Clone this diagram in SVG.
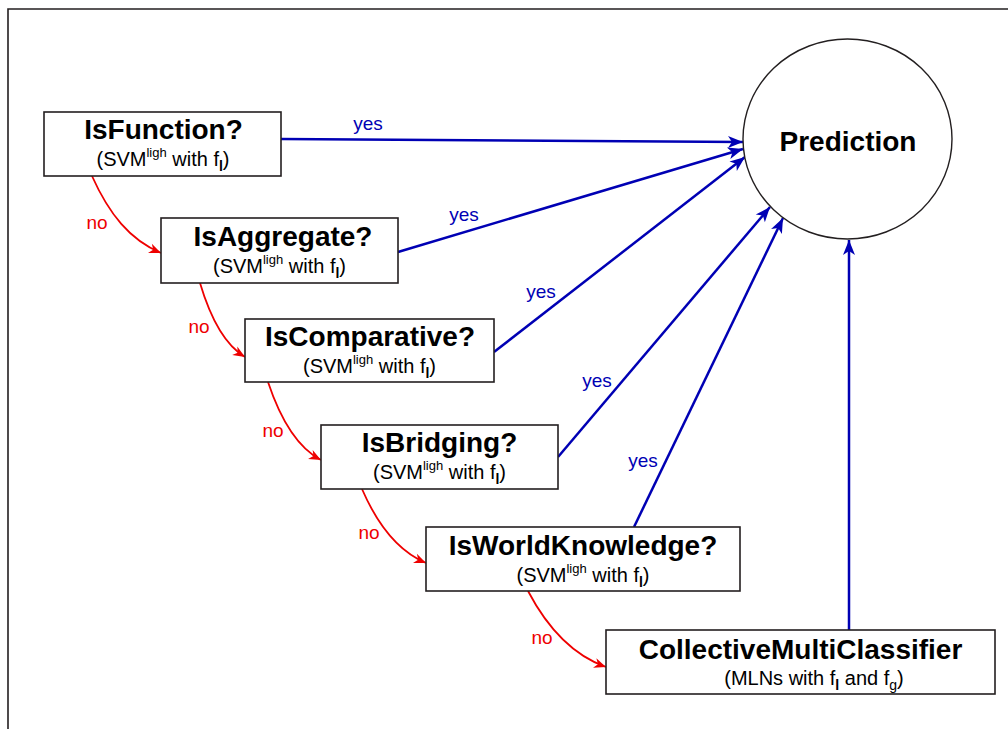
<svg xmlns="http://www.w3.org/2000/svg" width="1008" height="729" viewBox="0 0 1008 729">
  <style>
    .box { fill: #ffffff; stroke: #231f20; stroke-width: 1.6; }
    .title { font-family: "Liberation Sans", Arial, sans-serif; font-weight: bold; font-size: 28px; fill: #000; text-anchor: middle; }
    .sub { font-family: "Liberation Sans", Arial, sans-serif; font-size: 20px; fill: #000; text-anchor: middle; }
    .sup { font-size: 13px; }
    .idx { font-size: 14px; font-weight: bold; }
    .idx2 { font-size: 14px; }
    .yes { font-family: "Liberation Sans", Arial, sans-serif; font-size: 19px; fill: #0000b4; text-anchor: middle; }
    .no { font-family: "Liberation Sans", Arial, sans-serif; font-size: 19px; fill: #ee0000; text-anchor: middle; }
    .blue { fill: none; stroke: #0000b4; stroke-width: 2.5; marker-end: url(#headBlue); }
    .red { fill: none; stroke: #ee0000; stroke-width: 1.8; marker-end: url(#headRed); }
  </style>
  <defs>
    <marker id="headBlue" viewBox="-16 -7 17 14" refX="0" refY="0" markerWidth="17" markerHeight="14" markerUnits="userSpaceOnUse" orient="auto">
      <path d="M0,0 L-15,-6 L-11,0 L-15,6 Z" fill="#0000b4"/>
    </marker>
    <marker id="headRed" viewBox="-13 -6 14 12" refX="0" refY="0" markerWidth="14" markerHeight="12" markerUnits="userSpaceOnUse" orient="auto">
      <path d="M0,0 L-12,-5 L-8.5,0 L-12,5 Z" fill="#ee0000"/>
    </marker>
  </defs>

  <rect width="1008" height="729" fill="#ffffff"/>
  <!-- page frame -->
  <path d="M8,729 L8,9 L1008,9" fill="none" stroke="#231f20" stroke-width="1.6"/>

  <g id="connectors">
    <!-- yes branches to Prediction -->
    <line class="blue" x1="281" y1="139" x2="743" y2="142"/>
    <line class="blue" x1="398" y1="252" x2="743" y2="149"/>
    <line class="blue" x1="494" y1="352" x2="745" y2="157"/>
    <line class="blue" x1="558" y1="457" x2="770" y2="207"/>
    <line class="blue" x1="634" y1="527" x2="783" y2="218"/>
    <line class="blue" x1="849" y1="630" x2="849" y2="240"/>
    <text class="yes" x="368" y="130">yes</text>
    <text class="yes" x="464" y="221">yes</text>
    <text class="yes" x="541" y="298">yes</text>
    <text class="yes" x="597" y="387">yes</text>
    <text class="yes" x="643" y="467">yes</text>

    <!-- no branches down the cascade -->
    <path class="red" d="M92,176 C109,214 130,240 161,253"/>
    <path class="red" d="M200,283 C211,320 225,345 245,357"/>
    <path class="red" d="M268,382 C281,421 298,448 321,460"/>
    <path class="red" d="M362,489 C378,526 400,552 426,563"/>
    <path class="red" d="M528,591 C548,629 575,656 606,667"/>
    <text class="no" x="97" y="229">no</text>
    <text class="no" x="199" y="333">no</text>
    <text class="no" x="273" y="437">no</text>
    <text class="no" x="369" y="539">no</text>
    <text class="no" x="542" y="644">no</text>
  </g>

  <g id="prediction">
    <ellipse cx="847.5" cy="139" rx="104.5" ry="100" fill="#ffffff" stroke="#231f20" stroke-width="1.4"/>
    <text class="title" x="848" y="151">Prediction</text>
  </g>

  <g id="isFunction">
    <rect class="box" x="44" y="112" width="237" height="64"/>
    <text class="title" x="163.5" y="139">IsFunction?</text>
    <text class="sub" x="163" y="166">(SVM<tspan class="sup" dy="-9">ligh</tspan><tspan dy="9"> with f</tspan><tspan class="idx" dy="5">l</tspan><tspan dy="-5">)</tspan></text>
  </g>

  <g id="isAggregate">
    <rect class="box" x="161" y="218" width="237" height="65"/>
    <text class="title" x="283" y="246">IsAggregate?</text>
    <text class="sub" x="279.5" y="273">(SVM<tspan class="sup" dy="-9">ligh</tspan><tspan dy="9"> with f</tspan><tspan class="idx" dy="5">l</tspan><tspan dy="-5">)</tspan></text>
  </g>

  <g id="isComparative">
    <rect class="box" x="245" y="319" width="249" height="63"/>
    <text class="title" x="370" y="346">IsComparative?</text>
    <text class="sub" x="369.5" y="373">(SVM<tspan class="sup" dy="-9">ligh</tspan><tspan dy="9"> with f</tspan><tspan class="idx" dy="5">l</tspan><tspan dy="-5">)</tspan></text>
  </g>

  <g id="isBridging">
    <rect class="box" x="321" y="425" width="237" height="64"/>
    <text class="title" x="439.5" y="452">IsBridging?</text>
    <text class="sub" x="439.5" y="479">(SVM<tspan class="sup" dy="-9">ligh</tspan><tspan dy="9"> with f</tspan><tspan class="idx" dy="5">l</tspan><tspan dy="-5">)</tspan></text>
  </g>

  <g id="isWorldKnowledge">
    <rect class="box" x="426" y="527" width="314" height="64"/>
    <text class="title" x="583" y="555">IsWorldKnowledge?</text>
    <text class="sub" x="583" y="582">(SVM<tspan class="sup" dy="-9">ligh</tspan><tspan dy="9"> with f</tspan><tspan class="idx" dy="5">l</tspan><tspan dy="-5">)</tspan></text>
  </g>

  <g id="collectiveMultiClassifier">
    <rect class="box" x="606" y="630" width="389" height="64"/>
    <text class="title" x="800.5" y="659">CollectiveMultiClassifier</text>
    <text class="sub" x="814" y="685">(MLNs with f<tspan class="idx" dy="5">l</tspan><tspan dy="-5"> and f</tspan><tspan class="idx2" dy="5">g</tspan><tspan dy="-5">)</tspan></text>
  </g>
</svg>
